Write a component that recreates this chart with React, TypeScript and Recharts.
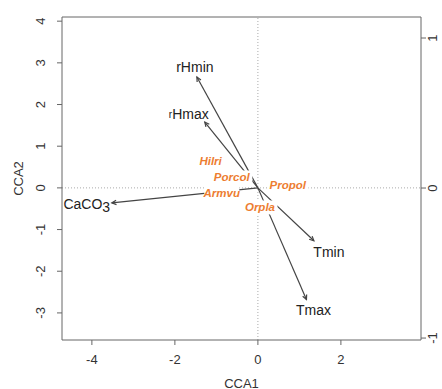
import {
  ScatterChart,
  Scatter,
  XAxis,
  YAxis,
  ReferenceLine,
} from 'recharts';

// environmental vectors (biplot arrows)
const envNames = ['rHmin', 'rHmax', 'CaCO3', 'Tmin', 'Tmax'];
const envCCA1 = [-1.47, -1.28, -3.52, 1.35, 1.17];
const envCCA2 = [2.66, 1.58, -0.36, -1.27, -2.68];

// species scores
const speciesNames = ['Hilri', 'Porcol', 'Propol', 'Armvu', 'Orpla'];
const speciesCCA1 = [-1.14, -0.63, 0.72, -0.87, 0.05];
const speciesCCA2 = [0.65, 0.25, 0.07, -0.13, -0.47];

const xTicks = [-4, -2, 0, 2];
const yTicks = [-3, -2, -1, 0, 1, 2, 3, 4];
const topTicks = [-1, 0, 1];
const rightTicks = [-1, 0, 1];

const AXIS = '#666';
const TEXT = '#333';
const ORANGE = '#ED7D31';
const FONT = '"Liberation Sans", Arial, sans-serif';

// where each arrow label sits relative to its tip, px
const labelOffset: Record<string, [number, number]> = {
  rHmin: [-2, -10],
  rHmax: [-16, -8],
  CaCO3: [-25, 1],
  Tmin: [15, 11],
  Tmax: [7, 10],
};

const envData = envNames.map((name, i) => ({ x: envCCA1[i], y: envCCA2[i], name }));
const speciesData = speciesNames.map((name, i) => ({
  x: speciesCCA1[i],
  y: speciesCCA2[i],
  name,
}));

const Arrow = (props: any) => {
  const { x1, y1, x2, y2 } = props;
  const ang = Math.atan2(y2 - y1, x2 - x1);
  const len = 5;
  const a = Math.PI / 7;
  const ax = x2 - len * Math.cos(ang - a);
  const ay = y2 - len * Math.sin(ang - a);
  const bx = x2 - len * Math.cos(ang + a);
  const by = y2 - len * Math.sin(ang + a);
  return (
    <g>
      <line x1={x1} y1={y1} x2={x2} y2={y2} stroke="#444" strokeWidth={1.2} />
      <path
        d={`M${ax},${ay} L${x2},${y2} L${bx},${by}`}
        fill="none"
        stroke="#444"
        strokeWidth={1.2}
      />
    </g>
  );
};

const EnvLabel = (props: any) => {
  const { cx, cy, payload } = props;
  const [dx, dy] = labelOffset[payload.name] || [0, 0];
  const common = {
    x: cx + dx,
    y: cy + dy,
    textAnchor: 'middle' as const,
    dominantBaseline: 'central' as const,
    fontSize: 14,
    fontFamily: FONT,
    fill: '#222',
  };
  if (payload.name === 'CaCO3') {
    return (
      <text {...common}>
        CaCO<tspan dy={3}>3</tspan>
      </text>
    );
  }
  if (payload.name === 'rHmax') {
    return (
      <text {...common}>
        <tspan fontSize={10}>r</tspan>Hmax
      </text>
    );
  }
  return <text {...common}>{payload.name}</text>;
};

const SpeciesLabel = (props: any) => {
  const { cx, cy, payload } = props;
  const w = payload.name.length * 6.2 + 4;
  return (
    <g>
      <rect x={cx - w / 2} y={cy - 7} width={w} height={14} fill="#fff" />
      <text
        x={cx}
        y={cy}
        textAnchor="middle"
        dominantBaseline="central"
        fontSize={11.5}
        fontWeight="bold"
        fontStyle="italic"
        fontFamily={FONT}
        fill={ORANGE}
      >
        {payload.name}
      </text>
    </g>
  );
};

const LeftTick = ({ x, y, payload }: any) => {
  const tx = x - 14;
  return (
    <text
      x={tx}
      y={y}
      transform={`rotate(-90, ${tx}, ${y})`}
      textAnchor="middle"
      dominantBaseline="central"
      fontSize={13}
      fontFamily={FONT}
      fill={TEXT}
    >
      {payload.value}
    </text>
  );
};

const RightTick = ({ x, y, payload }: any) => {
  const tx = x + 5;
  return (
    <text
      x={tx}
      y={y}
      transform={`rotate(-90, ${tx}, ${y})`}
      textAnchor="middle"
      dominantBaseline="central"
      fontSize={13}
      fontFamily={FONT}
      fill={TEXT}
    >
      {payload.value}
    </text>
  );
};

const BottomTick = ({ x, y, payload }: any) => (
  <text
    x={x}
    y={y + 12}
    textAnchor="middle"
    dominantBaseline="central"
    fontSize={13}
    fontFamily={FONT}
    fill={TEXT}
  >
    {payload.value}
  </text>
);

export default function App() {
  return (
    <div style={{ position: 'absolute', left: 0, top: 0, background: '#fff' }}>
      <ScatterChart
        width={442}
        height={389}
        margin={{ top: 0, right: 0, bottom: 0, left: 0 }}
      >
        <XAxis
          xAxisId="main"
          dataKey="x"
          type="number"
          domain={[-4.72, 3.93]}
          ticks={xTicks}
          allowDataOverflow
          height={49}
          stroke={AXIS}
          tickSize={5}
          tick={<BottomTick />}
          label={{
            content: ({ viewBox }: any) => (
              <text
                x={viewBox.x + viewBox.width / 2}
                y={viewBox.y + 43}
                textAnchor="middle"
                dominantBaseline="central"
                fontSize={13}
                fontFamily={FONT}
                fill={TEXT}
              >
                CCA1
              </text>
            ),
          }}
        />
        <XAxis
          xAxisId="top"
          orientation="top"
          type="number"
          domain={[-1.32, 1.1]}
          ticks={topTicks}
          allowDataOverflow
          height={17}
          stroke={AXIS}
          tickSize={5}
          tickFormatter={() => ''}
        />
        <YAxis
          yAxisId="main"
          dataKey="y"
          type="number"
          domain={[-3.65, 4.1]}
          ticks={yTicks}
          allowDataOverflow
          width={62}
          stroke={AXIS}
          tickSize={5}
          tick={<LeftTick />}
          label={{
            content: ({ viewBox }: any) => {
              const lx = viewBox.x + 18;
              const ly = viewBox.y + viewBox.height / 2;
              return (
                <text
                  x={lx}
                  y={ly}
                  transform={`rotate(-90, ${lx}, ${ly})`}
                  textAnchor="middle"
                  dominantBaseline="central"
                  fontSize={13}
                  fontFamily={FONT}
                  fill={TEXT}
                >
                  CCA2
                </text>
              );
            },
          }}
        />
        <YAxis
          yAxisId="right"
          orientation="right"
          type="number"
          domain={[-1.013, 1.14]}
          ticks={rightTicks}
          allowDataOverflow
          width={21}
          stroke={AXIS}
          tickSize={5}
          tick={<RightTick />}
        />

        <ReferenceLine
          xAxisId="main"
          yAxisId="main"
          x={0}
          stroke="#aaa"
          strokeDasharray="1 2"
        />
        <ReferenceLine
          xAxisId="main"
          yAxisId="main"
          y={0}
          stroke="#aaa"
          strokeDasharray="1 2"
        />

        {envData.map((d) => (
          <ReferenceLine
            key={d.name}
            xAxisId="main"
            yAxisId="main"
            segment={[
              { x: 0, y: 0 },
              { x: d.x, y: d.y },
            ]}
            shape={Arrow}
          />
        ))}

        <Scatter
          xAxisId="main"
          yAxisId="main"
          data={envData}
          shape={EnvLabel}
          isAnimationActive={false}
        />
        <Scatter
          xAxisId="main"
          yAxisId="main"
          data={speciesData}
          shape={SpeciesLabel}
          isAnimationActive={false}
        />
      </ScatterChart>
    </div>
  );
}
